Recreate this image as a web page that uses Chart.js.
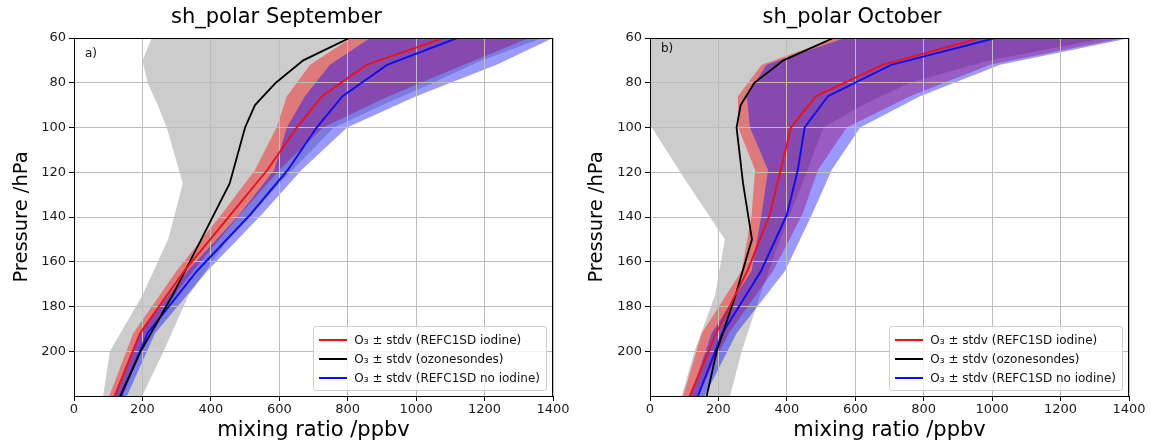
<!DOCTYPE html>
<html lang="en">
<head>
<meta charset="UTF-8">
<title>sh_polar ozone profiles</title>
<script src="https://cdn.jsdelivr.net/npm/chart.js@4"></script>
<style>
  html, body { margin: 0; padding: 0; background: #fff; }
  body { width: 1151px; height: 448px; overflow: hidden; font-family: 'DejaVu Sans', sans-serif; }
  .row { display: flex; width: 1151px; height: 448px; }
  .panel { position: relative; height: 448px; }
  #panelA { width: 575px; }
  #panelB { width: 576px; }
  .legend {
    position: absolute;
    background: rgba(255, 255, 255, 0.8);
    border: 1px solid #d0d0d0;
    border-radius: 3px;
    padding: 3px 6px 3px 5px;
    font-size: 12px;
    color: #111;
  }
  .legend .item { display: flex; align-items: center; height: 19px; white-space: nowrap; }
  .legend .swatch { width: 28px; height: 2px; margin-right: 7px; }
  .tag { position: absolute; font-size: 12px; line-height: 14px; color: #111; }
</style>
</head>
<body>
<div class="row">
  <div class="panel" id="panelA"><canvas id="chartA"></canvas></div>
  <div class="panel" id="panelB"><canvas id="chartB"></canvas></div>
</div>

<script>
// pressure levels (hPa)
const modelLevels = [60, 72, 86, 100, 119, 139, 164, 192, 226];
const sondeLevels = [60, 70, 80, 90, 100, 125, 150, 175, 200, 250];

const xTicks = [0, 200, 400, 600, 800, 1000, 1200, 1400];
const yTicks = [60, 80, 100, 120, 140, 160, 180, 200];

// September, ozone mixing ratio (ppbv)
const sepIodine   = [1080, 855, 725, 651, 565, 457, 323, 193, 103];
const sepIodineLo = [810, 690, 622, 592, 529, 430, 300, 173, 88];
const sepIodineHi = [1330, 1140, 920, 728, 600, 485, 348, 213, 118];
const sepNoIod    = [1120, 915, 785, 709, 625, 515, 360, 215, 121];
const sepNoIodLo  = [865, 748, 675, 622, 585, 483, 332, 193, 105];
const sepNoIodHi  = [1400, 1235, 1000, 798, 665, 548, 390, 237, 137];
const sepSonde    = [805, 670, 590, 529, 500, 455, 372, 288, 195, 45];
const sepSondeLo  = [227, 200, 215, 245, 271, 318, 275, 200, 105, 55];
const sepSondeHi  = [1370, 1190, 1050, 900, 760, 600, 450, 335, 262, 105];

// October
const octIodine   = [965, 680, 485, 412, 382, 350, 285, 193, 100];
const octIodineLo = [545, 326, 257, 258, 307, 297, 268, 151, 85];
const octIodineHi = [1384, 994, 760, 575, 491, 445, 360, 230, 120];
const octNoIod    = [1010, 705, 520, 452, 432, 400, 325, 211, 125];
const octNoIodLo  = [570, 340, 283, 292, 345, 326, 297, 180, 105];
const octNoIodHi  = [1403, 1023, 789, 614, 531, 473, 395, 253, 140];
const octSonde    = [536, 390, 305, 265, 253, 272, 298, 250, 195, 122];
const octSondeLo  = [-100, -100, -60, -30, 5, 110, 219, 190, 130, 37];
const octSondeHi  = [1335, 990, 760, 620, 507, 445, 380, 322, 268, 183];

const labels = [
  'O\u2083 \u00b1 stdv (REFC1SD iodine)',
  'O\u2083 \u00b1 stdv (ozonesondes)',
  'O\u2083 \u00b1 stdv (REFC1SD no iodine)'
];

Chart.defaults.font.family = "'DejaVu Sans', sans-serif";
Chart.defaults.color = '#1a1a1a';

function profile(levels, vals) {
  return vals.map((v, i) => ({ x: v, y: levels[i] }));
}

// closed outline: low edge going down, high edge coming back up
function band(levels, lo, hi) {
  return profile(levels, lo).concat(profile(levels, hi).reverse());
}

function lineSet(label, color, width, data) {
  return { label, data, borderColor: color, borderWidth: width, pointRadius: 0, fill: false, tension: 0 };
}

function bandSet(color, data) {
  return { label: '', data, backgroundColor: color, borderColor: 'rgba(0,0,0,0)', borderWidth: 0, pointRadius: 0, fill: 'shape', tension: 0 };
}

// matplotlib draws all four spines
const frame = {
  id: 'frame',
  afterDatasetsDraw(chart) {
    const { ctx, chartArea: a } = chart;
    ctx.save();
    ctx.strokeStyle = '#000';
    ctx.lineWidth = 1;
    ctx.strokeRect(Math.round(a.left) + 0.5, Math.round(a.top) + 0.5, Math.round(a.width) - 1, Math.round(a.height));
    ctx.restore();
  }
};

function makeChart(id, panelId, title, tag, tagDy, s, yWidth) {
  const datasets = [
    lineSet(labels[0], '#e8141c', 2, profile(modelLevels, s.iod)),
    lineSet(labels[1], '#000000', 1.8, profile(sondeLevels, s.sonde)),
    lineSet(labels[2], '#1010ee', 2, profile(modelLevels, s.noIod)),
    bandSet('rgba(0,0,255,0.4)', band(modelLevels, s.noIodLo, s.noIodHi)),
    bandSet('rgba(255,0,0,0.4)', band(modelLevels, s.iodLo, s.iodHi)),
    bandSet('rgba(128,128,128,0.4)', band(sondeLevels, s.sondeLo, s.sondeHi))
  ];

  const chart = new Chart(document.getElementById(id), {
    type: 'line',
    data: { datasets },
    plugins: [frame],
    options: {
      responsive: true,
      maintainAspectRatio: false,
      animation: false,
      events: [],
      layout: { padding: { left: 0, right: 22, top: 0, bottom: 0 } },
      plugins: {
        legend: { display: false },
        tooltip: { enabled: false },
        filler: { drawTime: 'beforeDraw' },
        title: {
          display: true,
          text: title,
          color: '#000',
          font: { size: 21, weight: 'normal' },
          padding: { top: 5, bottom: 7.8 }
        }
      },
      scales: {
        x: {
          type: 'linear',
          min: 0,
          max: 1400,
          afterBuildTicks: sc => { sc.ticks = xTicks.map(v => ({ value: v })); },
          afterFit: sc => { sc.height = 52; },
          ticks: { font: { size: 13 }, padding: 1, maxRotation: 0, callback: v => String(v) },
          grid: { color: '#bdbdbd', lineWidth: 1, tickColor: '#000', tickLength: 5 },
          border: { color: '#000', width: 1 },
          title: {
            display: true,
            text: 'mixing ratio /ppbv',
            color: '#000',
            font: { size: 21 },
            padding: { top: 0, bottom: 5 }
          }
        },
        y: {
          type: 'linear',
          reverse: true,
          min: 60,
          max: 220,
          afterBuildTicks: sc => { sc.ticks = yTicks.map(v => ({ value: v })); },
          afterFit: sc => { sc.width = yWidth; },
          ticks: { font: { size: 13 }, padding: 3, callback: v => String(v) },
          grid: { color: '#bdbdbd', lineWidth: 1, tickColor: '#000', tickLength: 5 },
          border: { color: '#000', width: 1 },
          title: {
            display: true,
            text: 'Pressure /hPa',
            color: '#000',
            font: { size: 19.5 },
            padding: { top: 10, bottom: 0 }
          }
        }
      }
    }
  });

  // legend box and panel letter, placed from the chart area
  const panel = document.getElementById(panelId);
  const area = chart.chartArea;
  const leg = document.createElement('div');
  leg.className = 'legend';
  datasets.slice(0, 3).forEach(ds => {
    const item = document.createElement('div');
    item.className = 'item';
    const sw = document.createElement('span');
    sw.className = 'swatch';
    sw.style.background = ds.borderColor;
    const tx = document.createElement('span');
    tx.textContent = ds.label;
    item.appendChild(sw);
    item.appendChild(tx);
    leg.appendChild(item);
  });
  leg.style.right = (chart.width - area.right + 6) + 'px';
  leg.style.bottom = (chart.height - area.bottom + 5) + 'px';
  panel.appendChild(leg);

  const t = document.createElement('div');
  t.className = 'tag';
  t.textContent = tag;
  t.style.left = (area.left + 11) + 'px';
  t.style.top = (area.top + tagDy) + 'px';
  panel.appendChild(t);

  return chart;
}

makeChart('chartA', 'panelA', 'sh_polar September', 'a)', 8, {
  iod: sepIodine, iodLo: sepIodineLo, iodHi: sepIodineHi,
  noIod: sepNoIod, noIodLo: sepNoIodLo, noIodHi: sepNoIodHi,
  sonde: sepSonde, sondeLo: sepSondeLo, sondeHi: sepSondeHi
}, 74);

makeChart('chartB', 'panelB', 'sh_polar October', 'b)', 3, {
  iod: octIodine, iodLo: octIodineLo, iodHi: octIodineHi,
  noIod: octNoIod, noIodLo: octNoIodLo, noIodHi: octNoIodHi,
  sonde: octSonde, sondeLo: octSondeLo, sondeHi: octSondeHi
}, 75);
</script>
</body>
</html>
